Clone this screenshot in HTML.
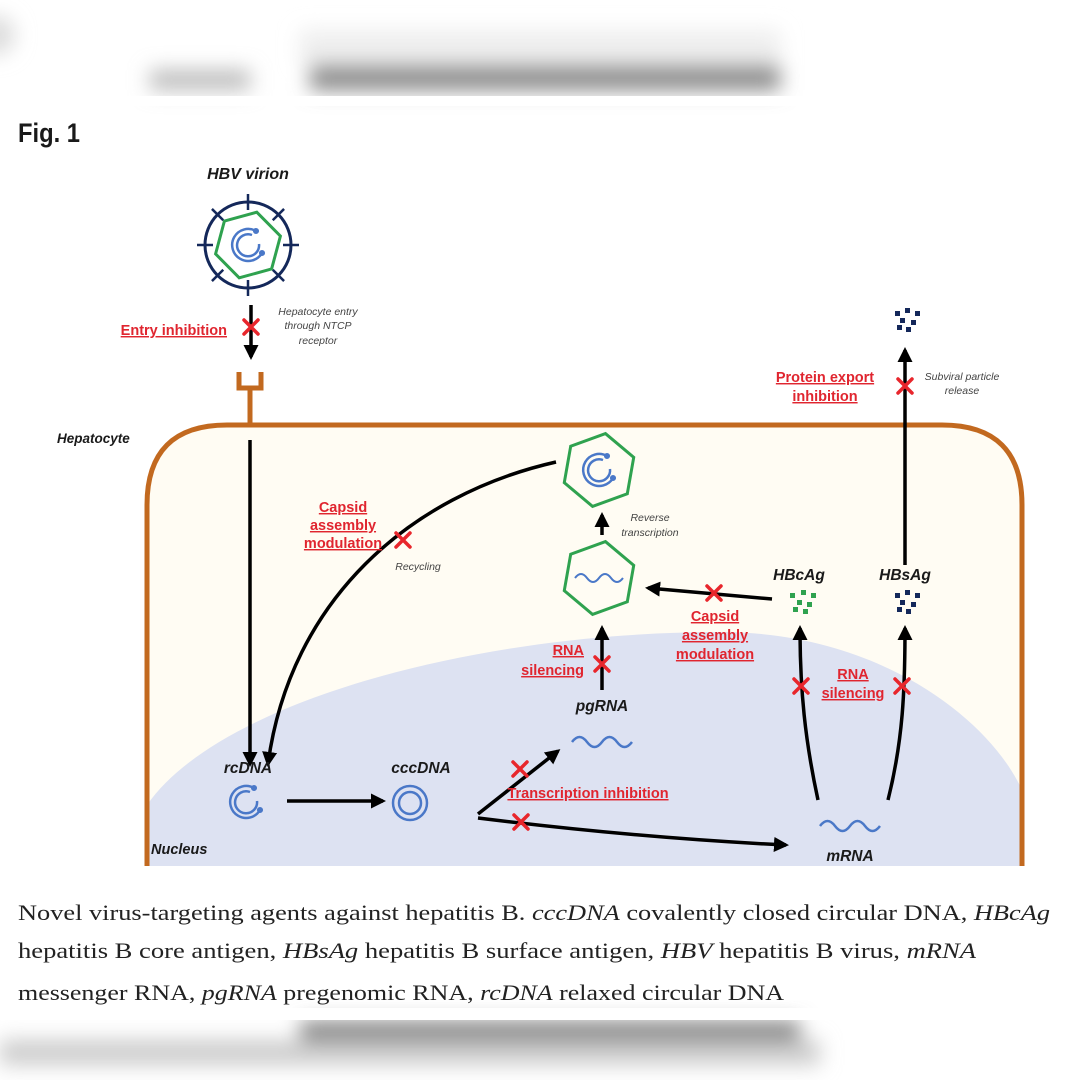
<!DOCTYPE html>
<html><head><meta charset="utf-8"><style>
html,body{margin:0;padding:0;background:#fff;}
svg{display:block;}
.lbl{font-family:"Liberation Sans",sans-serif;font-weight:bold;font-style:italic;fill:#1a1a1a;}
.red{font-family:"Liberation Sans",sans-serif;font-weight:bold;fill:#e0252f;font-size:14.5px;text-decoration:underline;}
.note{font-family:"Liberation Sans",sans-serif;font-style:italic;fill:#444;font-size:10.5px;}
.cap{font-family:"Liberation Serif",serif;font-size:22px;fill:#222;}
</style></head><body>
<svg width="1080" height="1080" viewBox="0 0 1080 1080" xmlns="http://www.w3.org/2000/svg">
<defs>
<filter id="b1" x="-20%" y="-50%" width="140%" height="200%"><feGaussianBlur stdDeviation="10"/></filter>
<marker id="ah" viewBox="0 0 10 10" refX="8" refY="5" markerWidth="4.3" markerHeight="4.3" orient="auto-start-reverse"><path d="M0,0 L10,5 L0,10 z" fill="#000"/></marker>
<g id="x"><path d="M-7,-7 L7,7 M7,-7 L-7,7" stroke="#e8262c" stroke-width="3.5" stroke-linecap="round"/></g>
<g id="rc" fill="none" stroke="#4a78c8" stroke-width="2.5">
<path d="M8,-14 A16,16 0 1 0 14,8"/>
<path d="M4,-10 A11,11 0 1 0 11,-1" />
<circle cx="8" cy="-14" r="1.8" fill="#4a78c8"/>
<circle cx="14" cy="8" r="1.8" fill="#4a78c8"/>
</g>
<g id="wave"><path d="M-30,0 q7.5,-10 15,0 t15,0 t15,0 t15,0" fill="none" stroke="#4a78c8" stroke-width="2.5"/></g>
</defs>
<rect width="1080" height="1080" fill="#fff"/>
<g filter="url(#b1)">
<rect x="150" y="70" width="100" height="20" fill="#bbb"/>
<rect x="310" y="60" width="470" height="30" fill="#888"/>
<rect x="300" y="30" width="480" height="35" fill="#eee"/>
<circle cx="-5" cy="35" r="20" fill="#ddd"/>
</g>
<rect x="0" y="96" width="1080" height="10" fill="#fff"/>
<text x="18" y="142" font-family="Liberation Sans,sans-serif" font-weight="bold" font-size="27" fill="#1a1a1a" textLength="62" lengthAdjust="spacingAndGlyphs">Fig. 1</text>

<path d="M147,866 L147,505 Q147,425 227,425 L942,425 Q1022,425 1022,505 L1022,866 Z" fill="#fffcf3"/>
<path d="M147,866 L147,805 C220,700 480,632 720,632 C880,632 990,720 1022,790 L1022,866 Z" fill="#dde2f2"/>
<path d="M147,866 L147,505 Q147,425 227,425 L942,425 Q1022,425 1022,505 L1022,866" fill="none" stroke="#c2691f" stroke-width="5"/>
<path d="M250,425 L250,388 M239,372 L239,388 L261,388 L261,372" fill="none" stroke="#c2691f" stroke-width="5"/>

<text class="lbl" x="248" y="179" font-size="16" text-anchor="middle">HBV virion</text>
<g transform="translate(248,245)">
<circle r="43" fill="none" stroke="#14285a" stroke-width="3"/>
<g stroke="#14285a" stroke-width="2.5">
<path d="M0,-51 L0,-35"/><path d="M0,-51 L0,-35" transform="rotate(45)"/><path d="M0,-51 L0,-35" transform="rotate(90)"/><path d="M0,-51 L0,-35" transform="rotate(135)"/><path d="M0,-51 L0,-35" transform="rotate(180)"/><path d="M0,-51 L0,-35" transform="rotate(225)"/><path d="M0,-51 L0,-35" transform="rotate(270)"/><path d="M0,-51 L0,-35" transform="rotate(315)"/>
</g>
<polygon points="0,-34 29,-17 29,17 0,34 -29,17 -29,-17" transform="rotate(15)" fill="none" stroke="#2fa24f" stroke-width="3"/>
<use href="#rc"/>
</g>
<line x1="251" y1="305" x2="251" y2="357" stroke="#000" stroke-width="3.5" marker-end="url(#ah)"/>
<use href="#x" x="251" y="327"/>
<text class="red" x="227" y="335" text-anchor="end">Entry inhibition</text>
<text class="note" x="318" y="315" text-anchor="middle">Hepatocyte entry</text>
<text class="note" x="318" y="329" text-anchor="middle">through NTCP</text>
<text class="note" x="318" y="344" text-anchor="middle">receptor</text>

<text class="lbl" x="57" y="443" font-size="13.5">Hepatocyte</text>
<text class="lbl" x="151" y="854" font-size="14.5">Nucleus</text>

<line x1="250" y1="440" x2="250" y2="764" stroke="#000" stroke-width="3.5" marker-end="url(#ah)"/>
<path d="M556,462 C410,495 290,600 268,764" fill="none" stroke="#000" stroke-width="3.5" marker-end="url(#ah)"/>
<use href="#x" x="403" y="540"/>
<text class="red" x="343" y="512" text-anchor="middle">Capsid</text>
<text class="red" x="343" y="530" text-anchor="middle">assembly</text>
<text class="red" x="343" y="548" text-anchor="middle">modulation</text>
<text class="note" x="418" y="570" text-anchor="middle">Recycling</text>

<g transform="translate(599,470)"><polygon points="0,-37 32,-18.5 32,18.5 0,37 -32,18.5 -32,-18.5" transform="rotate(10)" fill="none" stroke="#2fa24f" stroke-width="3"/><use href="#rc"/></g>
<line x1="602" y1="535" x2="602" y2="515" stroke="#000" stroke-width="3.5" marker-end="url(#ah)"/>
<text class="note" x="650" y="521" text-anchor="middle">Reverse</text>
<text class="note" x="650" y="536" text-anchor="middle">transcription</text>
<g transform="translate(599,578)"><polygon points="0,-37 32,-18.5 32,18.5 0,37 -32,18.5 -32,-18.5" transform="rotate(10)" fill="none" stroke="#2fa24f" stroke-width="3"/><g transform="scale(0.8)"><use href="#wave"/></g></g>

<line x1="772" y1="599" x2="648" y2="588" stroke="#000" stroke-width="3.5" marker-end="url(#ah)"/>
<use href="#x" x="714" y="593"/>
<text class="red" x="715" y="621" text-anchor="middle">Capsid</text>
<text class="red" x="715" y="640" text-anchor="middle">assembly</text>
<text class="red" x="715" y="659" text-anchor="middle">modulation</text>

<text class="lbl" x="799" y="580" font-size="15.5" text-anchor="middle">HBcAg</text>
<text class="lbl" x="905" y="580" font-size="15.5" text-anchor="middle">HBsAg</text>
<g fill="#2fa24f"><rect x="790" y="593" width="5" height="5"/><rect x="801" y="590" width="5" height="5"/><rect x="811" y="593" width="5" height="5"/><rect x="797" y="600" width="5" height="5"/><rect x="807" y="602" width="5" height="5"/><rect x="793" y="607" width="5" height="5"/><rect x="803" y="609" width="5" height="5"/></g>
<g fill="#14285a" id="dots"><rect x="895" y="593" width="5" height="5"/><rect x="905" y="590" width="5" height="5"/><rect x="915" y="593" width="5" height="5"/><rect x="900" y="600" width="5" height="5"/><rect x="911" y="602" width="5" height="5"/><rect x="897" y="607" width="5" height="5"/><rect x="906" y="609" width="5" height="5"/></g>
<use href="#dots" x="0" y="-282"/>

<line x1="602" y1="690" x2="602" y2="628" stroke="#000" stroke-width="3.5" marker-end="url(#ah)"/>
<use href="#x" x="602" y="664"/>
<text class="red" x="584" y="655" text-anchor="end">RNA</text>
<text class="red" x="584" y="675" text-anchor="end">silencing</text>
<text class="lbl" x="602" y="711" font-size="15.5" text-anchor="middle">pgRNA</text>
<use href="#wave" x="602" y="742"/>

<text class="lbl" x="248" y="773" font-size="15.5" text-anchor="middle">rcDNA</text>
<use href="#rc" x="246" y="802"/>
<line x1="287" y1="801" x2="383" y2="801" stroke="#000" stroke-width="3.5" marker-end="url(#ah)"/>
<text class="lbl" x="421" y="773" font-size="15.5" text-anchor="middle">cccDNA</text>
<g transform="translate(410,803)"><circle r="17" fill="none" stroke="#4a78c8" stroke-width="2.5"/><circle r="11" fill="none" stroke="#4a78c8" stroke-width="2.5"/></g>

<line x1="478" y1="814" x2="558" y2="751" stroke="#000" stroke-width="3.5" marker-end="url(#ah)"/>
<use href="#x" x="520" y="769"/>
<text class="red" x="588" y="798" text-anchor="middle">Transcription inhibition</text>
<path d="M478,818 Q640,838 786,845" fill="none" stroke="#000" stroke-width="3.5" marker-end="url(#ah)"/>
<use href="#x" x="521" y="822"/>

<use href="#wave" x="850" y="826"/>
<text class="lbl" x="850" y="861" font-size="15.5" text-anchor="middle">mRNA</text>
<path d="M818,800 C805,740 800,690 800,628" fill="none" stroke="#000" stroke-width="3.5" marker-end="url(#ah)"/>
<path d="M888,800 C903,740 905,690 905,628" fill="none" stroke="#000" stroke-width="3.5" marker-end="url(#ah)"/>
<use href="#x" x="801" y="686"/>
<use href="#x" x="902" y="686"/>
<text class="red" x="853" y="679" text-anchor="middle">RNA</text>
<text class="red" x="853" y="698" text-anchor="middle">silencing</text>

<line x1="905" y1="565" x2="905" y2="350" stroke="#000" stroke-width="3.5" marker-end="url(#ah)"/>
<use href="#x" x="905" y="386"/>
<text class="red" x="825" y="382" text-anchor="middle">Protein export</text>
<text class="red" x="825" y="401" text-anchor="middle">inhibition</text>
<text class="note" x="962" y="380" text-anchor="middle">Subviral particle</text>
<text class="note" x="962" y="394" text-anchor="middle">release</text>

<text class="cap" x="18" y="920" textLength="1032" lengthAdjust="spacingAndGlyphs">Novel virus-targeting agents against hepatitis B. <tspan font-style="italic">cccDNA</tspan> covalently closed circular DNA, <tspan font-style="italic">HBcAg</tspan></text>
<text class="cap" x="18" y="958" textLength="958" lengthAdjust="spacingAndGlyphs">hepatitis B core antigen, <tspan font-style="italic">HBsAg</tspan> hepatitis B surface antigen, <tspan font-style="italic">HBV</tspan> hepatitis B virus, <tspan font-style="italic">mRNA</tspan></text>
<text class="cap" x="18" y="1000" textLength="766" lengthAdjust="spacingAndGlyphs">messenger RNA, <tspan font-style="italic">pgRNA</tspan> pregenomic RNA, <tspan font-style="italic">rcDNA</tspan> relaxed circular DNA</text>

<g filter="url(#b1)">
<rect x="300" y="1022" width="500" height="22" fill="#777"/>
<rect x="0" y="1040" width="820" height="25" fill="#ccc"/>
</g>
<rect x="0" y="1008" width="1080" height="12" fill="#fff"/>
</svg>
</body></html>
